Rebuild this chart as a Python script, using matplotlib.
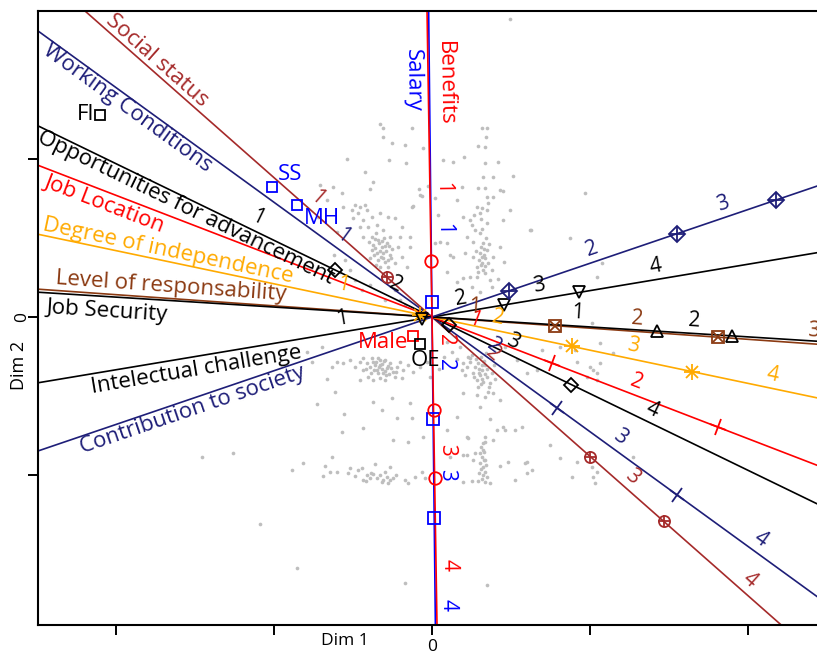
import numpy as np
import matplotlib
matplotlib.use("Agg")
import matplotlib.pyplot as plt
from matplotlib.markers import MarkerStyle
from matplotlib.transforms import Affine2D

plt.rcParams['font.family'] = ['Open Sans', 'DejaVu Sans']

# ---------------------------------------------------------------- data
# Variable axes of the biplot: direction angle (degrees) of each axis
VAR_NAMES = ["Social status", "Working Conditions", "Opportunities for advancement",
             "Job Location", "Degree of independence", "Level of responsability",
             "Job Security", "Intelectual challenge", "Contribution to society",
             "Salary", "Benefits"]
VAR_ANGLES = [-41.41, -35.98, -25.88, -21.06, -11.86, -4.04, -3.60, 9.48, 18.78,
              -89.37, -89.07]

# Positions (along each axis) of the category boundary marks
BOUNDARIES = {
    "Social status": [-0.60, 2.11, 3.09],
    "Working Conditions": [1.55, 3.03],
    "Opportunities for advancement": [-1.08, 0.19, 1.55],
    "Job Location": [1.29, 3.06],
    "Degree of independence": [-0.12, 1.43, 2.66],
    "Level of responsability": [1.23, 2.87],
    "Job Security": [2.25, 3.01],
    "Intelectual challenge": [-0.105, 0.73, 1.49],
    "Contribution to society": [0.81, 2.59, 3.63],
    "Salary": [-0.15, 1.02, 2.01],
    "Benefits": [-0.56, 0.93, 1.61],
}

# Positions (along each axis) of the category levels 1..4
LEVELS = {
    "Social status": {"1": -1.65, "2": 0.70, "3": 2.56, "4": 4.12},
    "Working Conditions": {"1": -1.19, "2": 0.67, "3": 2.23, "4": 3.96},
    "Opportunities for advancement": {"1": -2.00, "2": -0.47, "3": 0.83, "4": 2.39},
    "Job Location": {"1": 0.41, "2": 2.14},
    "Degree of independence": {"1": -0.94, "2": 0.646, "3": 2.03, "4": 3.45},
    "Level of responsability": {"1": 0.42, "2": 2.045, "3": 3.81},
    "Job Security": {"1": 1.45, "2": 2.62},
    "Intelectual challenge": {"1": -0.89, "2": 0.32, "3": 1.11, "4": 2.29},
    "Contribution to society": {"2": 1.73, "3": 3.12},
    "Salary": {"1": -0.88, "2": 0.48, "3": 1.58, "4": 2.88},
    "Benefits": {"1": -1.29, "2": 0.23, "3": 1.33, "4": 2.48},
}

# Supplementary points
POINT_NAMES = ["FI", "SS", "MH", "Male", "OE"]
POINT_X = [-3.32, -1.60, -1.35, -0.19, -0.12]
POINT_Y = [2.02, 1.30, 1.12, -0.19, -0.27]

# Individuals (grey cloud), grouped by region
CLOUD_UPPER_LEFT = [
    (-0.52, 1.93), (-0.49, 1.89), (-0.20, 1.89), (-0.49, 1.80), (-0.40, 1.74), (-0.27, 1.72),
    (-0.85, 1.58), (-0.43, 1.57), (-0.26, 1.54), (-0.67, 1.45), (-0.59, 1.35), (-0.62, 1.28),
    (-0.13, 1.28), (-0.20, 1.10), (-0.12, 1.22), (-0.90, 1.24), (-0.77, 1.12), (-0.72, 1.10),
    (-0.67, 1.12), (-0.80, 1.07), (-0.74, 1.04), (-0.65, 1.07), (-0.79, 0.99), (-0.69, 0.97),
    (-0.60, 1.00), (-0.52, 1.04), (-0.44, 1.00), (-0.72, 0.90), (-0.64, 0.90), (-0.55, 0.92),
    (-0.49, 0.87), (-0.69, 0.80), (-0.60, 0.80), (-0.54, 0.77), (-0.59, 0.72), (-0.50, 0.70),
    (-0.45, 0.74), (-0.60, 0.67), (-0.55, 0.64), (-0.49, 0.64), (-0.42, 0.62), (-0.54, 0.57),
    (-0.47, 0.55), (-0.37, 0.54), (-0.52, 0.50), (-0.44, 0.50), (-0.62, 0.59), (-0.34, 0.70),
    (-0.30, 0.60), (-0.25, 0.50), (-0.22, 0.70), (-0.32, 0.80), (-0.30, 0.90), (-0.42, 0.80),
    (-0.37, 0.99), (-0.22, 0.80), (-0.87, 0.57), (-0.82, 0.47), (-0.77, 0.37), (-0.70, 0.27),
    (-0.62, 0.32), (-0.37, 0.27), (-0.32, 0.17), (-0.27, 0.12), (-0.47, 0.17), (-0.09, 1.69),
    (-0.04, 1.31), (-0.10, 1.21), (-0.19, 1.11), (-0.57, 0.69), (-0.51, 0.60), (-0.46, 0.66),
    (-0.53, 0.74), (-0.48, 0.79), (-0.56, 0.84), (-0.63, 0.75), (-0.58, 0.62), (-0.44, 0.57),
    (-0.40, 0.68), (-0.99, 1.30), (-1.12, 1.32), (-1.05, 1.17), (-0.89, 1.10), (-1.14, 1.00),
    (-0.95, 0.85), (-0.92, 0.45), (-0.98, 0.62), (0.78, 2.98), (-0.50, 0.76), (-0.47, 0.71),
    (-0.52, 0.66), (-0.57, 0.78), (-0.43, 0.71), (-0.49, 0.59), (-0.56, 0.52), (-0.41, 0.59),
]
CLOUD_UPPER_RIGHT = [
    (0.50, 1.89), (0.55, 1.89), (0.54, 1.80), (0.46, 1.71), (0.53, 1.70), (0.11, 1.57),
    (0.21, 1.55), (0.32, 1.60), (0.53, 1.54), (0.66, 1.55), (0.61, 1.40), (0.51, 1.40),
    (0.46, 1.29), (0.53, 1.29), (0.30, 1.30), (0.25, 1.17), (0.55, 1.20), (0.61, 1.20),
    (0.68, 1.27), (0.78, 1.07), (0.71, 0.97), (0.45, 1.10), (0.50, 1.09), (0.55, 1.07),
    (0.48, 1.04), (0.31, 1.00), (0.38, 0.97), (0.40, 0.92), (0.43, 0.87), (0.48, 0.84),
    (0.55, 0.94), (0.35, 0.80), (0.41, 0.75), (0.51, 0.74), (0.55, 0.67), (0.48, 0.64),
    (0.53, 0.59), (0.56, 0.54), (0.50, 0.54), (0.51, 0.47), (0.45, 0.50), (0.60, 0.47),
    (0.41, 0.60), (0.61, 0.60), (0.68, 0.70), (0.33, 0.64), (0.21, 0.60), (0.38, 0.40),
    (0.45, 0.40), (0.58, 0.37), (0.31, 0.39), (0.18, 0.62), (0.08, 0.75), (0.15, 0.74),
    (0.03, 0.74), (0.81, 1.41), (0.71, 1.26), (0.03, 1.19), (0.06, 1.02), (0.99, 0.87),
    (0.49, 0.70), (0.52, 0.62), (0.47, 0.57), (0.54, 0.79), (0.50, 0.88), (0.44, 0.66),
    (0.57, 0.73), (0.46, 0.45), (0.53, 0.51), (0.49, 0.98), (0.42, 1.02), (0.56, 1.14),
    (0.60, 0.30), (0.40, 0.30), (0.66, 0.38), (0.25, 0.35), (0.15, 0.45), (0.72, 0.55),
    (0.48, 0.25), (1.53, 1.24), (1.65, 0.40), (1.70, 0.54), (1.60, -0.06), (0.98, 0.87),
    (1.38, 0.79), (0.50, 0.60), (0.52, 0.68), (0.49, 0.52), (0.53, 0.44),
]
CLOUD_LOWER_LEFT = [
    (-1.00, -0.50), (-0.95, -0.45), (-0.89, -0.46), (-0.82, -0.43), (-0.77, -0.50),
    (-0.72, -0.45), (-0.69, -0.53), (-0.65, -0.46), (-0.62, -0.50), (-0.59, -0.45),
    (-0.55, -0.53), (-0.52, -0.48), (-0.49, -0.56), (-0.45, -0.51), (-0.42, -0.46),
    (-0.39, -0.55), (-0.35, -0.50), (-0.32, -0.45), (-0.29, -0.53), (-0.24, -0.48),
    (-0.19, -0.55), (-0.12, -0.50), (-0.64, -0.60), (-0.59, -0.63), (-0.52, -0.61),
    (-0.47, -0.63), (-0.72, -0.63), (-0.69, -0.41), (-0.60, -0.41), (-0.54, -0.41),
    (-0.47, -0.43), (-0.37, -0.60), (-0.30, -0.61), (-0.40, -0.81), (-0.59, -0.85),
    (-0.50, -0.93), (-0.22, -0.86), (-0.20, -1.01), (-0.35, -1.01), (-0.69, -1.11),
    (-0.90, -1.15), (-0.09, -1.20), (-0.24, -1.25), (-0.39, -1.23), (-1.00, -1.40),
    (-0.82, -1.51), (-0.57, -0.48), (-0.50, -0.52), (-0.44, -0.49), (-0.54, -0.56),
    (-0.61, -0.56), (-0.48, -0.44), (-0.41, -0.51), (-0.66, -0.52), (-0.52, -0.43),
    (-0.36, -0.55), (-0.58, -0.53), (-0.46, -0.58), (-1.10, -0.30), (-1.20, -0.45),
    (-1.05, -0.62), (-0.97, -0.75), (-1.15, -0.87), (-1.25, -0.35), (-0.88, -0.97),
    (-2.30, -1.40), (-1.99, -1.36), (-1.29, -1.46), (-0.05, -0.45), (-0.02, -0.60),
    (0.07, -0.52), (-0.53, -0.50), (-0.56, -0.45), (-0.50, -0.47), (-0.47, -0.54),
    (-0.43, -0.57),
]
CLOUD_BOTTOM = [
    (-1.40, -1.53), (-1.07, -1.49), (-1.09, -1.59), (-1.02, -1.55), (-0.95, -1.55),
    (-0.84, -1.56), (-0.77, -1.59), (-0.74, -1.53), (-0.70, -1.51), (-0.65, -1.58),
    (-0.62, -1.61), (-0.59, -1.57), (-0.55, -1.61), (-0.52, -1.58), (-0.49, -1.63),
    (-0.45, -1.60), (-0.42, -1.63), (-0.39, -1.61), (-0.69, -1.63), (-0.57, -1.47),
    (-0.42, -1.50), (-0.27, -1.63), (-0.24, -1.66), (-0.17, -1.60), (-0.10, -1.55),
    (-0.07, -1.61), (0.31, -1.65), (0.40, -1.64), (0.46, -1.64), (0.48, -1.46),
    (0.51, -1.50), (0.53, -1.55), (0.55, -1.60), (0.53, -1.65), (0.58, -1.66),
    (0.68, -1.49), (0.76, -1.45), (0.83, -1.63), (0.93, -1.46), (0.95, -1.56),
    (-1.72, -2.07), (-1.35, -2.51), (-0.27, -2.66), (0.55, -2.68), (0.50, -1.40),
    (0.52, -1.43), (0.49, -1.52), (0.51, -1.58), (0.54, -1.48), (0.50, -1.62),
    (0.47, -1.56), (0.52, -1.35), (0.49, -1.30), (0.53, -1.25), (-0.47, -1.55),
    (-0.61, -1.56), (-0.50, -1.65), (-0.36, -1.58), (-0.44, -1.66), (-0.66, -1.64),
]
CLOUD_LOWER_RIGHT = [
    (0.30, -0.53), (0.35, -0.50), (0.38, -0.45), (0.43, -0.50), (0.46, -0.46), (0.50, -0.53),
    (0.53, -0.48), (0.48, -0.58), (0.55, -0.60), (0.51, -0.65), (0.58, -0.66), (0.60, -0.56),
    (0.45, -0.63), (0.41, -0.56), (0.56, -0.75), (0.61, -0.76), (0.53, -0.80), (0.68, -0.83),
    (0.48, -0.90), (0.58, -1.02), (0.83, -1.13), (0.90, -1.10), (0.73, -1.13), (0.53, -1.20),
    (0.36, -1.21), (0.61, -1.23), (0.43, -1.36), (0.51, -1.33), (0.53, -1.43), (0.31, -1.38),
    (0.95, -1.45), (1.00, -1.53), (1.28, -1.41), (1.18, -1.28), (1.45, -1.45), (1.60, -1.50),
    (1.61, -1.60), (1.63, -1.66), (1.65, -1.55), (1.40, -1.60), (2.01, -1.40), (0.73, -0.30),
    (0.85, -0.43), (0.95, -0.56), (1.05, -0.53), (1.45, -0.45), (1.58, -0.50), (1.61, -0.53),
    (1.65, -0.56), (1.68, -0.46), (1.55, -0.60), (1.65, -0.63), (1.68, -0.26), (1.81, -0.36),
    (1.10, -0.33), (1.28, -0.30), (1.43, -0.33), (0.31, -0.46), (0.38, -0.41), (0.31, -0.76),
    (0.25, -1.00), (0.35, -1.20), (0.51, -1.26), (0.48, -1.36), (0.41, -1.43), (0.65, -1.13),
    (0.71, -1.10), (0.15, -1.13), (0.18, -1.40), (0.35, -1.38), (0.44, -0.42), (0.49, -0.40),
    (0.52, -0.44), (0.47, -0.52), (0.55, -0.52), (0.42, -0.60), (0.50, -0.62), (0.57, -0.70),
    (0.46, -0.70), (0.40, -0.38), (0.54, -0.36), (0.36, -0.40), (0.62, -0.48), (0.33, -0.58),
    (0.45, -0.78), (0.63, -0.62), (0.15, -0.25), (0.20, -0.35), (0.25, -0.42), (0.28, -0.30),
    (0.12, -0.40), (0.50, -0.48), (0.47, -0.56), (0.53, -0.57), (0.49, -0.67),
]

# ---------------------------------------------------------------- styles
NAVY = "#1E1E78"
VAR_COLORS = ["#A52A2A", NAVY, "black", "red", "#FFAA00", "#8B3A12",
              "black", "black", NAVY, "blue", "red"]
VAR_MARKERS = ["oplus", "tick", "diamond", "tick", "star", "sqx",
               "tri_up", "tri_down", "dplus", "square", "circle"]
# label placement: (distance along axis, perpendicular offset)
NAME_PLACE = [(-3.76, 0.11), (-3.69, -0.095), (-2.69, -0.093), (-3.46, -0.12),
              (-2.72, 0.10), (-2.62, 0.115), (-3.25, -0.144), (-2.41, -0.134),
              (-2.57, -0.108), (-2.37, -0.165), (-2.33, 0.17)]
POINT_COLORS = ["black", "blue", "blue", "red", "black"]
POINT_TEXT = [dict(dx=-6, dy=0, ha="right", va="center"),
              dict(dx=18, dy=13, ha="center", va="center"),
              dict(dx=25, dy=-13, ha="center", va="center"),
              dict(dx=-5, dy=-7, ha="right", va="center"),
              dict(dx=5, dy=-16, ha="center", va="center")]

NAME_FS = 16
LEVEL_FS = 15
LW = 1.2


def along(theta, t, off=0.0):
    th = np.radians(theta)
    return (t * np.cos(th) - off * np.sin(th), t * np.sin(th) + off * np.cos(th))


def draw_marks(ax, xs, ys, kind, color, theta):
    kw = dict(ls="none", color=color, mfc="none", mew=1.3, zorder=4, clip_on=True)
    if kind == "oplus":
        ax.plot(xs, ys, marker="o", ms=8, **kw)
        ax.plot(xs, ys, marker="+", ms=8, **kw)
    elif kind == "tick":
        m = MarkerStyle("+", transform=Affine2D().rotate_deg(theta))
        ax.plot(xs, ys, marker=m, ms=12, **kw)
    elif kind == "diamond":
        ax.plot(xs, ys, marker="D", ms=7, **kw)
    elif kind == "star":
        ax.plot(xs, ys, marker="+", ms=11, **kw)
        ax.plot(xs, ys, marker="x", ms=8, **kw)
    elif kind == "sqx":
        ax.plot(xs, ys, marker="s", ms=8, **kw)
        ax.plot(xs, ys, marker="x", ms=7, **kw)
    elif kind == "tri_up":
        ax.plot(xs, ys, marker="^", ms=9, **kw)
    elif kind == "tri_down":
        ax.plot(xs, ys, marker="v", ms=9, **kw)
    elif kind == "dplus":
        ax.plot(xs, ys, marker="D", ms=8, **kw)
        ax.plot(xs, ys, marker="+", ms=10, **kw)
    elif kind == "square":
        ax.plot(xs, ys, marker="s", ms=8, **kw)
    elif kind == "circle":
        ax.plot(xs, ys, marker="o", ms=9, **kw)


fig = plt.figure(figsize=(8.17, 6.55), dpi=100)
ax = fig.add_axes([38 / 817, 30 / 655, 792 / 817, 614 / 655])
ax.set_xlim(-3.94, 3.98)
ax.set_ylim(-3.08, 3.06)

# grey cloud of individuals
cloud = np.array(CLOUD_UPPER_LEFT + CLOUD_UPPER_RIGHT + CLOUD_LOWER_LEFT
                 + CLOUD_BOTTOM + CLOUD_LOWER_RIGHT)
ax.scatter(cloud[:, 0], cloud[:, 1], s=7, c="#BEBEBE", linewidths=0, zorder=1)

# variable axes
for name, theta, color, mk, (tn, on) in zip(VAR_NAMES, VAR_ANGLES, VAR_COLORS,
                                            VAR_MARKERS, NAME_PLACE):
    ux, uy = along(theta, 1.0)
    ax.axline((0, 0), (ux, uy), color=color, lw=LW, zorder=2)
    ts = np.array(BOUNDARIES[name])
    draw_marks(ax, ts * ux, ts * uy, mk, color, theta)
    for lab, t in LEVELS[name].items():
        x, y = along(theta, t, 0.13)
        ax.text(x, y, lab, color=color, fontsize=LEVEL_FS, rotation=theta,
                rotation_mode="anchor", ha="center", va="center", zorder=5)
    x, y = along(theta, tn, on)
    ax.text(x, y, name, color=color, fontsize=NAME_FS, rotation=theta,
            rotation_mode="anchor", ha="center", va="center", zorder=5)

# supplementary points
for name, px, py, col, tk in zip(POINT_NAMES, POINT_X, POINT_Y, POINT_COLORS, POINT_TEXT):
    ax.plot(px, py, marker="s", ms=7.5, mfc="none", mec=col, mew=1.3, zorder=5)
    ax.annotate(name, (px, py), xytext=(tk["dx"], tk["dy"]), textcoords="offset pixels",
                color=col, fontsize=NAME_FS, ha=tk["ha"], va=tk["va"], zorder=6)

# frame and ticks
for sp in ax.spines.values():
    sp.set_linewidth(1.5)
step = 1.58
ax.set_xticks([-2 * step, -step, 0, step, 2 * step])
ax.set_xticklabels(["", "", "0", "", ""])
ax.set_yticks([-step, 0, step])
ax.set_yticklabels(["", "0", ""], rotation=90, va="center")
ax.tick_params(direction="out", length=7, width=1.4, labelsize=12.5)
ax.tick_params(axis="x", pad=3)
ax.tick_params(axis="y", pad=-1)

fig.text(345 / 817, 1 - 641 / 655, "Dim 1", ha="center", va="center", fontsize=12.5)
fig.text(19 / 817, 1 - 365 / 655, "Dim 2", ha="center", va="center", fontsize=13,
         rotation=90)

fig.savefig("out.png", dpi=100)
